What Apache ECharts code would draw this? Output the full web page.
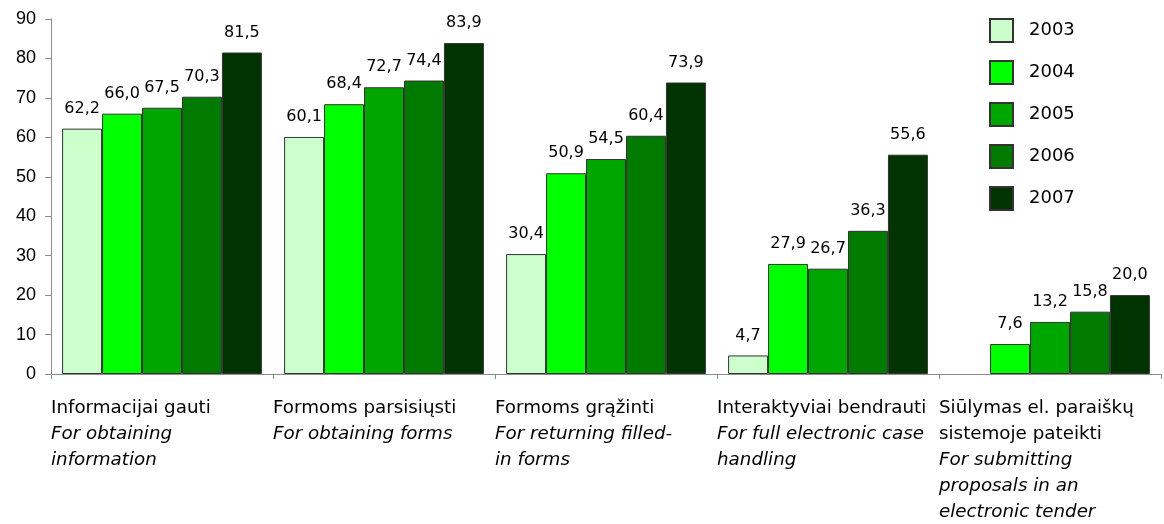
<!DOCTYPE html>
<html>
<head>
<meta charset="utf-8">
<script src="https://cdn.jsdelivr.net/npm/echarts@6/dist/echarts.min.js"></script>
<style>
html,body{margin:0;padding:0;background:#fff;}
#chart{width:1164px;height:524px;}
</style>
</head>
<body>
<div id="chart"></div>
<script>
// Category labels: Lithuanian lines (normal) and English lines (italic)
const catLt = [
  ['Informacijai gauti'],
  ['Formoms parsisiųsti'],
  ['Formoms grąžinti'],
  ['Interaktyviai bendrauti'],
  ['Siūlymas el. paraiškų', 'sistemoje pateikti']
];
const catEn = [
  ['For obtaining', 'information'],
  ['For obtaining forms'],
  ['For returning filled-', 'in forms'],
  ['For full electronic case', 'handling'],
  ['For submitting', 'proposals in an', 'electronic tender']
];
const seriesNames = ['2003', '2004', '2005', '2006', '2007'];
const v2003 = [62.2, 60.1, 30.4, 4.7, null];
const v2004 = [66.0, 68.4, 50.9, 27.9, 7.6];
const v2005 = [67.5, 72.7, 54.5, 26.7, 13.2];
const v2006 = [70.3, 74.4, 60.4, 36.3, 15.8];
const v2007 = [81.5, 83.9, 73.9, 55.6, 20.0];
const yTicks = [0, 10, 20, 30, 40, 50, 60, 70, 80, 90];

const seriesValues = [v2003, v2004, v2005, v2006, v2007];
const colors = ['#CCFFCC', '#00FF00', '#00A600', '#007A00', '#003300'];
const FONT = '"DejaVu Sans", sans-serif';
const FONT_AX = '"Liberation Sans", Arial, sans-serif';

const categories = catLt.map((lt, i) => i);
const labelText = catLt.map((lt, i) =>
  lt.map(s => '{n|' + s + '}').concat(catEn[i].map(s => '{i|' + s + '}')).join('\n')
);

const chart = echarts.init(document.getElementById('chart'));
chart.setOption({
  animation: false,
  backgroundColor: '#ffffff',
  textStyle: { fontFamily: FONT },
  grid: { left: 51, right: 3, top: 19, bottom: 150, containLabel: false },
  legend: {
    orient: 'vertical',
    left: 984,
    top: 13,
    itemWidth: 23,
    itemHeight: 23,
    itemGap: 17,
    icon: 'rect',
    textStyle: { fontSize: 18, color: '#000', fontFamily: FONT, padding: [0, 0, 0, 11] },
    data: seriesNames
  },
  xAxis: {
    type: 'category',
    data: categories,
    axisLine: { lineStyle: { color: '#8c8c8c', width: 1 } },
    axisTick: { show: true, length: 5, lineStyle: { color: '#8c8c8c' } },
    axisLabel: {
      interval: 0,
      margin: 21,
      width: 222,
      overflow: 'none',
      align: 'center',
      formatter: (v, idx) => labelText[idx],
      rich: {
        n: { fontSize: 18.3, lineHeight: 26, color: '#000', align: 'left', fontFamily: FONT },
        i: { fontSize: 18.3, lineHeight: 26, color: '#000', align: 'left', fontStyle: 'italic', fontFamily: FONT }
      }
    },
    splitLine: { show: false }
  },
  yAxis: {
    type: 'value',
    min: yTicks[0],
    max: yTicks[yTicks.length - 1],
    interval: 10,
    axisLine: { show: true, lineStyle: { color: '#8c8c8c', width: 1 } },
    axisTick: { show: true, length: 6, lineStyle: { color: '#8c8c8c' } },
    axisLabel: { fontSize: 18, color: '#000', margin: 15, fontFamily: FONT_AX },
    splitLine: { show: false }
  },
  series: seriesNames.map((name, k) => ({
    name: name,
    type: 'bar',
    data: seriesValues[k],
    barGap: '0%',
    barCategoryGap: '10%',
    itemStyle: { color: colors[k], borderColor: '#333333', borderWidth: 1 },
    label: {
      show: true,
      position: 'top',
      distance: 12,
      fontSize: 16,
      color: '#000',
      fontFamily: FONT,
      formatter: p => (p.value == null ? '' : Number(p.value).toFixed(1).replace('.', ','))
    }
  }))
});
</script>
</body>
</html>
